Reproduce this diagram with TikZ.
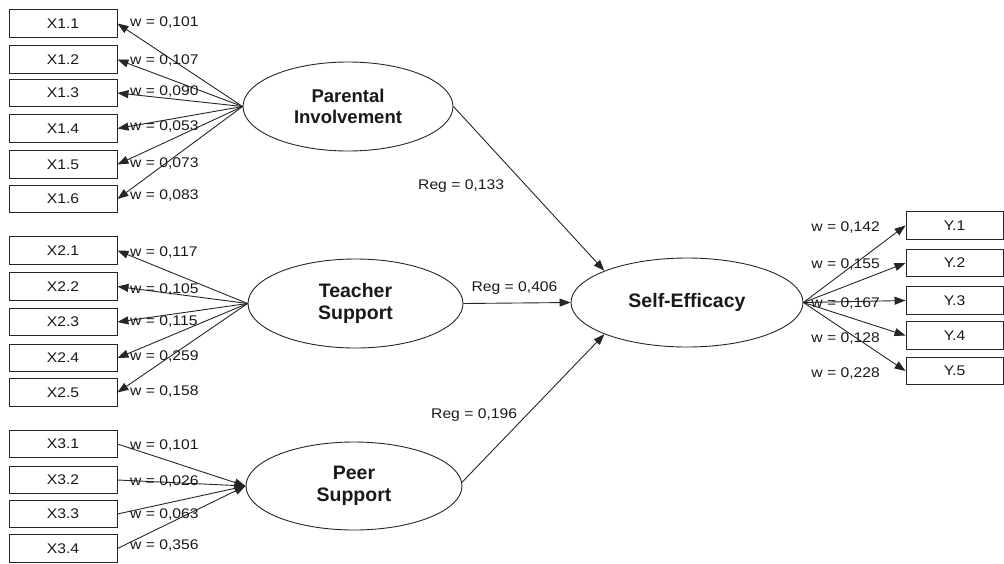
\documentclass[tikz,border=0pt]{standalone}
\usepackage{fontspec}
\setmainfont{Liberation Sans}
\newfontfamily\lblfont{Liberation Sans}[FakeStretch=1.12]
\usetikzlibrary{arrows.meta,shapes.geometric}
\tikzset{
  ind/.style={draw=black!85, line width=0.9pt, minimum width=108pt, minimum height=27.5pt, inner sep=0pt, font=\lblfont\fontsize{14}{16}\selectfont, text=black!90},
  yind/.style={ind, minimum width=97pt},
  lat/.style={draw=black!85, line width=0.9pt, ellipse, inner sep=0pt, align=center, font=\bfseries\fontsize{19.5}{22.5}\selectfont, text=black!90},
  arr/.style={draw=black!85, line width=0.9pt, -{Triangle[length=11pt,width=8pt]}},
  wl/.style={inner sep=0pt, font=\lblfont\fontsize{14}{16}\selectfont, text=black!90},
}
\begin{document}
\begin{tikzpicture}[x=1pt,y=-1pt]
\useasboundingbox (0,0) rectangle (1004,563);
% latent variables
\node[lat, minimum width=210pt, minimum height=89pt, font=\bfseries\fontsize{18.5}{20.5}\selectfont] (pi) at (348,106.5) {Parental\\Involvement};
\node[lat, minimum width=215pt, minimum height=89pt] (ts) at (355.5,303.5) {Teacher\\Support};
\node[lat, minimum width=216pt, minimum height=88pt] (ps) at (354,486) {Peer\\Support};
\node[lat, minimum width=232pt, minimum height=89pt] (se) at (687,302.5) {Self-Efficacy};
% group 1
\foreach \i/\yy/\ly/\w in {1/23.5/23/{0,101}, 2/59.5/61/{0,107}, 3/93/92/{0,090}, 4/128.5/127/{0,053}, 5/164.5/164/{0,073}, 6/199/196/{0,083}}{
  \node[ind] (x1\i) at (63,\yy) {X1.\i};
  \draw[arr] (pi.west) -- (x1\i.east);
  \node[wl, anchor=west] (lx1\i) at (130,\ly) {w = \w};
}
% group 2
\foreach \i/\yy/\ly/\w in {1/250.5/253/{0,117}, 2/286.5/290/{0,105}, 3/322/322/{0,115}, 4/358/357/{0,259}, 5/392.5/391/{0,158}}{
  \node[ind] (x2\i) at (63,\yy) {X2.\i};
  \draw[arr] (ts.west) -- (x2\i.east);
  \node[wl, anchor=west] (lx2\i) at (130,\ly) {w = \w};
}
% group 3
\foreach \i/\yy/\ly/\w in {1/444/445/{0,101}, 2/480/481/{0,026}, 3/514/514/{0,063}, 4/548.5/545/{0,356}}{
  \node[ind] (x3\i) at (63,\yy) {X3.\i};
  \draw[arr] (x3\i.east) -- (ps.west);
  \node[wl, anchor=west] (lx3\i) at (130,\ly) {w = \w};
}
% outcome indicators
\foreach \i/\yy/\ly/\w in {1/225.5/228/{0,142}, 2/263/265/{0,155}, 3/300.5/304/{0,167}, 4/335.5/339/{0,128}, 5/371/373/{0,228}}{
  \node[yind] (y\i) at (954.5,\yy) {Y.\i};
  \draw[arr] (se.east) -- (y\i.west);
  \node[wl, anchor=east] (ly\i) at (880,\ly) {w = \w};
}
% structural paths
\draw[arr] (pi.east) -- (se.159);
\draw[arr] (ts.east) -- (se.west);
\draw[arr] (ps.2) -- (se.201);
\node[wl, anchor=west] (r1) at (418,186) {Reg = 0,133};
\node[wl] (r2) at (514.5,288) {Reg = 0,406};
\node[wl, anchor=west] (r3) at (431,415) {Reg = 0,196};
\end{tikzpicture}
\end{document}
